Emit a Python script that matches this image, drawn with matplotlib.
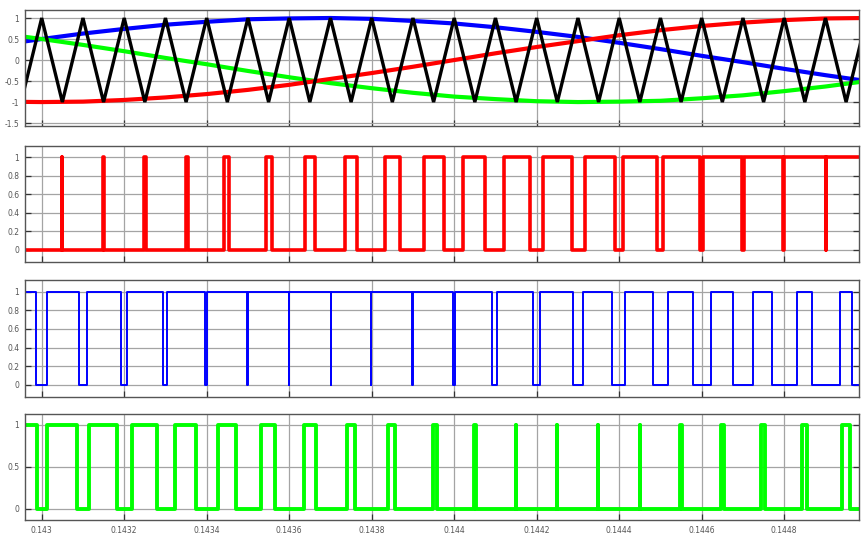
import matplotlib
matplotlib.use('Agg')
import matplotlib.pyplot as plt
import numpy as np

t0 = 0.143

# reference sines, read every 0.1 ms from 0.1429 s to 0.1450 s
sine_t = [0.1429, 0.1430, 0.1431, 0.1432, 0.1433, 0.1434, 0.1435, 0.1436,
          0.1437, 0.1438, 0.1439, 0.1440, 0.1441, 0.1442, 0.1443, 0.1444,
          0.1445, 0.1446, 0.1447, 0.1448, 0.1449, 0.1450]
red_sine = [-0.99, -1.00, -0.99, -0.95, -0.89, -0.81, -0.71, -0.59, -0.45, -0.31, -0.16,
            0.00, 0.16, 0.31, 0.45, 0.59, 0.71, 0.81, 0.89, 0.95, 0.99, 1.00]
blue_sine = [0.36, 0.50, 0.63, 0.74, 0.84, 0.91, 0.97, 0.99, 1.00, 0.98, 0.93,
             0.87, 0.78, 0.67, 0.55, 0.41, 0.26, 0.10, -0.05, -0.21, -0.36, -0.50]
green_sine = [0.63, 0.50, 0.36, 0.21, 0.05, -0.10, -0.26, -0.41, -0.55, -0.67, -0.78,
              -0.87, -0.93, -0.98, -1.00, -0.99, -0.97, -0.91, -0.84, -0.74, -0.63, -0.50]

# triangle carrier vertices (microseconds after 0.143 s)
carrier_us = [-50, 0, 50, 100, 150, 200, 250, 300, 350, 400, 450, 500, 550, 600,
              650, 700, 750, 800, 850, 900, 950, 1000, 1050, 1100, 1150, 1200,
              1250, 1300, 1350, 1400, 1450, 1500, 1550, 1600, 1650, 1700, 1750,
              1800, 1850, 1900, 1950, 2000]
carrier_v = [-1, 1, -1, 1, -1, 1, -1, 1, -1, 1, -1, 1, -1, 1, -1, 1, -1, 1, -1, 1, -1,
             1, -1, 1, -1, 1, -1, 1, -1, 1, -1, 1, -1, 1, -1, 1, -1, 1, -1, 1, -1, 1]

# switching edges of the gate signals (microseconds after 0.143 s)
red_start = 0
red_edges = [49.7, 50.3, 149.3, 150.7, 248.5, 252.0, 349.1, 355.4, 442.7, 454.8,
             543.0, 559.0, 638.3, 662.5, 735.3, 765.1, 832.2, 868.6, 926.8, 975.3,
             1022.0, 1074.6, 1120.7, 1183.7, 1216.0, 1284.8, 1317.1, 1389.8,
             1408.5, 1492.4, 1506.9, 1595.9, 1602.9, 1696.7, 1702.0, 1796.6,
             1799.0, 1900.1, 1900.8]
blue_start = 1
blue_edges = [-13.8, 12.1, 90.4, 109.1, 192.2, 207.5, 294.8, 304.5, 395.9, 400.0,
              498.6, 500.2, 600.0, 600.4, 700.4, 700.8, 797.8, 798.8, 897.8, 901.0,
              996.4, 1001.9, 1092.3, 1104.5, 1191.7, 1208.0, 1288.7, 1311.5,
              1383.3, 1414.1, 1481.2, 1519.0, 1579.6, 1621.8, 1675.1, 1725.1,
              1769.7, 1831.7, 1866.6, 1935.3, 1963.6]
green_start = 1
green_edges = [-12.1, 12.1, 86.3, 115.4, 183.3, 218.2, 278.8, 323.1, 374.1, 426.7,
               471.0, 530.9, 565.6, 635.9, 664.2, 739.4, 759.5, 840.2, 856.5, 949.3,
               957.6, 1048.0, 1052.8, 1148.8, 1150.8, 1249.5, 1250.3, 1349.2, 1349.4,
               1450.0, 1450.8, 1548.4, 1551.2, 1647.4, 1652.9, 1743.8, 1753.5,
               1842.1, 1856.0, 1939.4, 1959.5]

xticks = [0.143, 0.1432, 0.1434, 0.1436, 0.1438, 0.144, 0.1442, 0.1444, 0.1446, 0.1448]
xtick_labels = ['0.143', '0.1432', '0.1434', '0.1436', '0.1438', '0.144',
                '0.1442', '0.1444', '0.1446', '0.1448']
xmin, xmax = t0 - 40.5e-6, t0 + 1981.3e-6


def gate_wave(edges, start):
    t = [xmin]
    v = [start]
    cur = start
    for e in edges:
        te = t0 + e * 1e-6
        t += [te, te]
        v += [cur, 1 - cur]
        cur = 1 - cur
    t.append(xmax)
    v.append(cur)
    return t, v


fig = plt.figure(figsize=(8.61, 5.36), dpi=100)
L, W = 25 / 861, 834 / 861
ax1 = fig.add_axes([L, 0.7649, W, 0.2164])
ax2 = fig.add_axes([L, 0.5118, W, 0.2164])
ax3 = fig.add_axes([L, 0.2599, W, 0.2177])
ax4 = fig.add_axes([L, 0.0299, W, 0.1972])

ax1.plot(sine_t, blue_sine, color='#0000ff', lw=3)
ax1.plot(sine_t, green_sine, color='#00ff00', lw=3)
ax1.plot(sine_t, red_sine, color='#ff0000', lw=3)
ax1.plot([t0 + c * 1e-6 for c in carrier_us], carrier_v, color='black', lw=2.4,
         solid_joinstyle='miter')
ax1.set_ylim(-1.57, 1.19)
ax1.set_yticks([-1.5, -1, -0.5, 0, 0.5, 1])
ax1.set_yticklabels(['-1.5', '-1', '-0.5', '0', '0.5', '1'])

tr, vr = gate_wave(red_edges, red_start)
ax2.plot(tr, vr, color='#ff0000', lw=2.6)
tb, vb = gate_wave(blue_edges, blue_start)
ax3.plot(tb, vb, color='#0000ff', lw=1.4)
for ax in (ax2, ax3):
    ax.set_ylim(-0.128, 1.126)
    ax.set_yticks([0, 0.2, 0.4, 0.6, 0.8, 1])
    ax.set_yticklabels(['0', '0.2', '0.4', '0.6', '0.8', '1'])

tg, vg = gate_wave(green_edges, green_start)
ax4.plot(tg, vg, color='#00ff00', lw=2.8)
ax4.set_ylim(-0.131, 1.127)
ax4.set_yticks([0, 0.5, 1])
ax4.set_yticklabels(['0', '0.5', '1'])

for ax in (ax1, ax2, ax3, ax4):
    ax.set_xlim(xmin, xmax)
    ax.set_xticks(xticks)
    ax.set_axisbelow(True)
    ax.grid(True, color='#a4a4a4', lw=0.9)
    for s in ax.spines.values():
        s.set_color('#555555')
        s.set_linewidth(1.0)
    ax.tick_params(direction='in', length=4, width=0.9, color='#333333',
                   labelsize=5.5, labelcolor='#555555', right=True, pad=4)
    if ax is ax4:
        ax.set_xticklabels(xtick_labels)
    else:
        ax.set_xticklabels([])

fig.savefig('out.png', dpi=100)
